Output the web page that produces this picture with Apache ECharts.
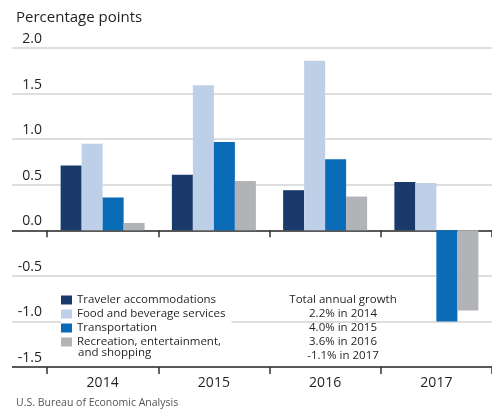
<!DOCTYPE html>
<html>
<head>
<meta charset="utf-8">
<script src="https://cdn.jsdelivr.net/npm/echarts@6/dist/echarts.min.js"></script>
<style>
  html, body { margin: 0; padding: 0; background: #fff; }
  #chart { width: 492px; height: 410px; }
</style>
</head>
<body>
<div id="chart"></div>
<script>
// 数据
const years = ['2014', '2015', '2016', '2017'];
const seriesNames = ['Traveler accommodations', 'Food and beverage services', 'Transportation', 'Recreation, entertainment, and shopping'];
const accommodations = [0.71, 0.61, 0.44, 0.53];
const foodBeverage = [0.95, 1.59, 1.86, 0.52];
const transportation = [0.36, 0.97, 0.78, -1.0];
const recreation = [0.08, 0.54, 0.37, -0.88];
const growthNotes = ['Total annual growth', '2.2% in 2014', '4.0% in 2015', '3.6% in 2016', '-1.1% in 2017'];
const colors = ['#1a3a6c', '#bed0e8', '#0a6cb6', '#b1b3b6'];

const FONT = '"Open Sans", sans-serif';
const TEXT = '#231f20';

const chart = echarts.init(document.getElementById('chart'));

const values = [accommodations, foodBeverage, transportation, recreation];

chart.setOption({
  animation: false,
  textStyle: { fontFamily: FONT },
  title: [
    { text: 'Percentage points', left: 16, top: 10, padding: 0,
      textStyle: { fontSize: 15, fontWeight: 'normal', color: TEXT, fontFamily: FONT } },
    { text: 'U.S. Bureau of Economic Analysis', left: 16, top: 398, padding: 0,
      textStyle: { fontSize: 10.5, fontWeight: 'normal', color: '#555', fontFamily: FONT } }
  ],
  grid: [
    { left: 12, width: 480, top: 48, height: 319 },   // 网格线 + y 轴标签
    { left: 47, width: 453, top: 48, height: 319 }    // 柱子
  ],
  xAxis: [
    { gridIndex: 0, type: 'category', data: years, show: false },
    { gridIndex: 1, type: 'category', data: years, position: 'bottom',
      axisLine: { show: false, onZero: false },
      axisTick: { show: true, length: 7, lineStyle: { color: '#333', width: 1.5 } },
      axisLabel: { fontSize: 14, color: TEXT, margin: 9, fontFamily: FONT },
      splitLine: { show: false } },
    { gridIndex: 1, type: 'category', data: years, position: 'top',
      axisLine: { show: false, onZero: true },
      axisTick: { show: true, inside: true, length: 7, lineStyle: { color: '#333', width: 1.5 } },
      axisLabel: { show: false } }
  ],
  yAxis: [
    { gridIndex: 0, type: 'value', min: -1.5, max: 2, interval: 0.5,
      axisLine: { show: false }, axisTick: { show: false },
      axisLabel: { inside: true, align: 'right', margin: 30, verticalAlign: 'bottom', padding: [0, 0, 2, 0],
        fontSize: 14, color: TEXT, fontFamily: FONT, formatter: v => v.toFixed(1) },
      splitLine: { show: true, lineStyle: {
        width: 1.6,
        color: ['#222', '#d3d3d3', '#d3d3d3', '#222', '#d3d3d3', '#d3d3d3', '#d3d3d3', '#d3d3d3'] } } },
    { gridIndex: 1, type: 'value', min: -1.5, max: 2, interval: 0.5, show: false, splitLine: { show: false } }
  ],
  legend: {
    orient: 'vertical', left: 61, top: 292,
    padding: [1, 6, 4, 0], itemGap: 0,
    backgroundColor: '#fff',
    icon: 'rect', itemWidth: 11, itemHeight: 9,
    selectedMode: false,
    data: seriesNames,
    formatter: name => name === seriesNames[3] ? 'Recreation, entertainment,' : name,
    textStyle: { fontSize: 11.5, lineHeight: 14, color: TEXT, fontFamily: FONT }
  },
  graphic: [
    { type: 'text', left: 78, top: 347, z: 100,
      style: { text: 'and shopping', fontSize: 11.5, fill: TEXT, fontFamily: FONT } },
    { type: 'text', x: 343, y: 293, z: 100,
      style: { text: growthNotes.join('\n'), fontSize: 11.5, lineHeight: 14, fill: TEXT,
        align: 'center', verticalAlign: 'top', fontFamily: FONT } }
  ],
  series: seriesNames.map((name, i) => ({
    name,
    type: 'bar',
    xAxisIndex: 1, yAxisIndex: 1,
    data: values[i],
    barWidth: 21,
    barGap: '0%',
    itemStyle: { color: colors[i] }
  }))
});
</script>
</body>
</html>
